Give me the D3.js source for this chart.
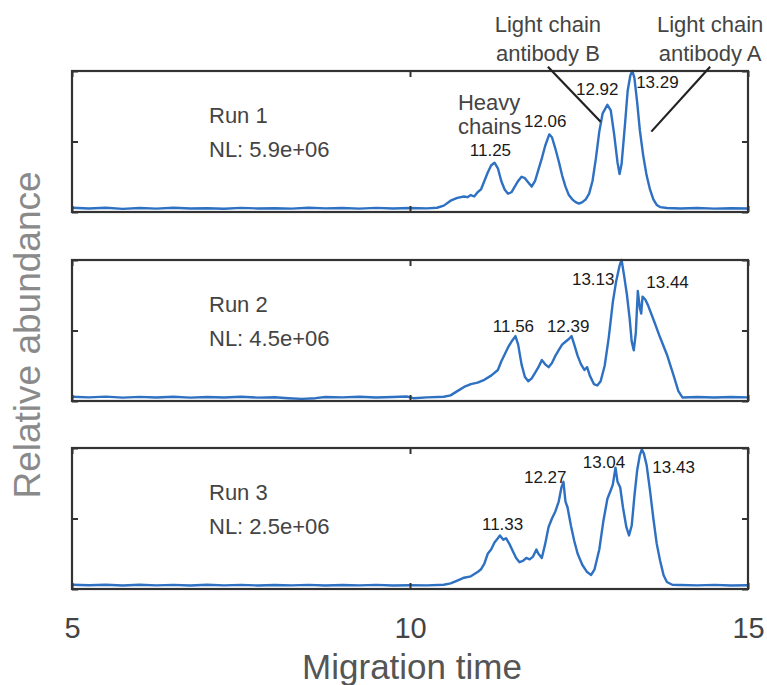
<!DOCTYPE html>
<html><head><meta charset="utf-8">
<script src="https://cdn.jsdelivr.net/npm/d3@7"></script>
<style>body{margin:0;background:#fff}svg{display:block}</style></head>
<body><svg id="c" width="767" height="685"></svg>
<script>
// ---------- data ----------
const runNames = ["Run 1", "Run 2", "Run 3"];
const normLevels = ["NL: 5.9e+06", "NL: 4.5e+06", "NL: 2.5e+06"];
const xTicks = [5, 10, 15];
const xTickLabels = ["5", "10", "15"];
const yTicks = [0, 0.5, 1];

const run1 = [[5.0,.03],[5.25,.025],[5.5,.03],[5.75,.022],[6.0,.028],[6.25,.024],[6.5,.03],[6.75,.025],[7.0,.027],[7.25,.023],[7.5,.029],[7.75,.025],[8.0,.027],[8.25,.024],[8.5,.03],[8.75,.026],[9.0,.028],[9.25,.024],[9.5,.029],[9.75,.025],[10.0,.028],[10.25,.026],[10.4,.03],[10.5,.045],[10.6,.08],[10.7,.10],[10.8,.11],[10.85,.105],[10.9,.12],[10.95,.11],[11.0,.14],[11.05,.16],[11.1,.22],[11.15,.28],[11.2,.33],[11.25,.35],[11.3,.31],[11.35,.22],[11.4,.16],[11.45,.13],[11.5,.14],[11.55,.18],[11.6,.22],[11.65,.25],[11.7,.24],[11.75,.21],[11.8,.18],[11.85,.22],[11.9,.30],[11.95,.38],[12.0,.47],[12.06,.55],[12.1,.53],[12.15,.45],[12.2,.36],[12.25,.26],[12.3,.18],[12.35,.12],[12.4,.09],[12.45,.07],[12.5,.06],[12.55,.07],[12.6,.09],[12.65,.13],[12.7,.22],[12.75,.38],[12.8,.57],[12.85,.70],[12.92,.76],[12.97,.72],[13.02,.55],[13.07,.35],[13.1,.27],[13.13,.34],[13.18,.62],[13.22,.86],[13.26,.97],[13.29,1.0],[13.32,.95],[13.36,.78],[13.4,.58],[13.45,.40],[13.5,.26],[13.55,.16],[13.6,.09],[13.65,.05],[13.7,.035],[13.8,.028],[14.0,.025],[14.25,.028],[14.5,.024],[14.75,.027],[15.0,.025]];

const run2 = [[5.0,.03],[5.25,.026],[5.5,.031],[5.75,.024],[6.0,.029],[6.25,.025],[6.5,.03],[6.75,.024],[7.0,.028],[7.25,.025],[7.5,.03],[7.75,.024],[8.0,.027],[8.2,.02],[8.4,.015],[8.6,.02],[8.75,.028],[9.0,.026],[9.25,.03],[9.5,.025],[9.75,.028],[9.95,.032],[10.05,.02],[10.25,.026],[10.5,.03],[10.6,.04],[10.7,.07],[10.8,.10],[10.9,.12],[11.0,.13],[11.1,.15],[11.2,.18],[11.3,.22],[11.35,.28],[11.4,.33],[11.45,.38],[11.5,.42],[11.56,.46],[11.6,.40],[11.65,.26],[11.7,.17],[11.75,.14],[11.8,.16],[11.85,.20],[11.9,.24],[11.95,.29],[12.0,.26],[12.05,.24],[12.1,.27],[12.15,.32],[12.2,.36],[12.25,.40],[12.3,.42],[12.35,.44],[12.39,.46],[12.43,.40],[12.48,.32],[12.53,.26],[12.58,.22],[12.62,.24],[12.66,.18],[12.72,.12],[12.77,.11],[12.82,.14],[12.88,.25],[12.94,.45],[13.0,.70],[13.05,.85],[13.1,.96],[13.13,1.0],[13.17,.88],[13.21,.75],[13.25,.58],[13.28,.42],[13.31,.36],[13.34,.48],[13.37,.78],[13.4,.66],[13.42,.62],[13.44,.74],[13.48,.72],[13.52,.68],[13.6,.58],[13.7,.45],[13.8,.33],[13.9,.18],[13.97,.07],[14.03,.025],[14.25,.028],[14.5,.025],[14.75,.028],[15.0,.026]];

const run3 = [[5.0,.03],[5.25,.027],[5.5,.03],[5.75,.025],[6.0,.03],[6.25,.026],[6.5,.029],[6.75,.025],[7.0,.03],[7.25,.026],[7.5,.029],[7.75,.025],[8.0,.028],[8.25,.026],[8.5,.029],[8.75,.025],[9.0,.028],[9.25,.026],[9.5,.029],[9.75,.025],[10.0,.027],[10.25,.026],[10.5,.03],[10.6,.04],[10.7,.06],[10.8,.08],[10.9,.09],[11.0,.12],[11.05,.14],[11.1,.18],[11.15,.25],[11.2,.28],[11.25,.33],[11.3,.36],[11.33,.38],[11.38,.35],[11.42,.36],[11.47,.32],[11.52,.27],[11.57,.22],[11.62,.19],[11.67,.20],[11.72,.22],[11.77,.21],[11.82,.23],[11.87,.28],[11.9,.25],[11.95,.22],[12.0,.32],[12.05,.44],[12.1,.50],[12.15,.55],[12.2,.62],[12.24,.72],[12.27,.76],[12.3,.62],[12.33,.58],[12.38,.45],[12.43,.34],[12.48,.25],[12.55,.17],[12.62,.12],[12.68,.10],[12.73,.14],[12.8,.28],[12.86,.48],[12.92,.64],[12.97,.70],[13.0,.74],[13.04,.86],[13.07,.76],[13.11,.72],[13.15,.58],[13.2,.44],[13.24,.38],[13.28,.45],[13.32,.66],[13.36,.84],[13.4,.95],[13.43,.99],[13.46,.96],[13.5,.88],[13.55,.70],[13.6,.50],[13.65,.32],[13.7,.20],[13.75,.10],[13.8,.05],[13.88,.03],[14.0,.028],[14.25,.026],[14.5,.029],[14.75,.025],[15.0,.027]];

const traces = [run1, run2, run3];

// peak labels: [text, time, relative abundance]
const peaks1 = [["11.25",11.19,0.40],["12.06",12.0,0.60],["12.92",12.77,0.83],["13.29",13.66,0.88]];
const peaks2 = [["11.56",11.53,0.49],["12.39",12.34,0.49],["13.13",12.71,0.82],["13.44",13.81,0.80]];
const peaks3 = [["11.33",11.37,0.42],["12.27",12.0,0.75],["13.04",12.87,0.86],["13.43",13.90,0.82]];
const peakLabels = [peaks1, peaks2, peaks3];

// annotation callouts in panel 1
const callouts = [
  {lines:["Light chain","antibody B"], t:12.04, leader:[[12.04,1.03],[12.82,0.64]]},
  {lines:["Light chain","antibody A"], t:14.44, leader:[[14.44,1.03],[13.57,0.57]]}
];
const heavyLabel = {lines:["Heavy","chains"], t:10.71, v:[0.72,0.555]};

// ---------- layout ----------
const svg = d3.select("#c");
const left = 72, right = 748;
const panelTops = [71, 260, 448];
const panelH = 141;
const font = "'Liberation Sans', Arial, Helvetica, sans-serif";

const x = d3.scaleLinear().domain([5, 15]).range([left, right]);

traces.forEach((data, i) => {
  const top = panelTops[i];
  const y = d3.scaleLinear().domain([0, 1]).range([top + panelH, top]);
  const g = svg.append("g");

  g.append("path")
    .datum(data)
    .attr("fill", "none")
    .attr("stroke", "#2e70c2")
    .attr("stroke-width", 2.4)
    .attr("stroke-linejoin", "round")
    .attr("d", d3.line().x(d => x(d[0])).y(d => y(d[1])));

  const axStyle = sel => {
    sel.select(".domain").remove();
    sel.selectAll(".tick line").attr("stroke", "#333").attr("stroke-width", 2);
  };
  g.append("g").attr("transform", `translate(${left},0)`)
    .call(d3.axisLeft(y).tickValues(yTicks).tickSize(-6).tickFormat("")).call(axStyle);
  g.append("g").attr("transform", `translate(${right},0)`)
    .call(d3.axisRight(y).tickValues(yTicks).tickSize(-6).tickFormat("")).call(axStyle);
  g.append("g").attr("transform", `translate(0,${top})`)
    .call(d3.axisTop(x).tickValues(xTicks).tickSize(-6).tickFormat("")).call(axStyle);
  g.append("g").attr("transform", `translate(0,${top + panelH})`)
    .call(d3.axisBottom(x).tickValues(xTicks).tickSize(-6).tickFormat("")).call(axStyle);

  g.append("rect")
    .attr("x", left).attr("y", top)
    .attr("width", right - left).attr("height", panelH)
    .attr("fill", "none").attr("stroke", "#333").attr("stroke-width", 2.2);

  g.append("text").attr("x", 209).attr("y", top + 52)
    .attr("font-family", font).attr("font-size", 22).attr("fill", "#444")
    .text(runNames[i]);
  g.append("text").attr("x", 209).attr("y", top + 86)
    .attr("font-family", font).attr("font-size", 22).attr("fill", "#444")
    .text(normLevels[i]);

  g.selectAll(".pk").data(peakLabels[i]).enter().append("text")
    .attr("x", d => x(d[1])).attr("y", d => y(d[2]))
    .attr("text-anchor", "middle")
    .attr("font-family", font).attr("font-size", 17).attr("fill", "#1a1a1a")
    .text(d => d[0]);

  if (i === 0) {
    g.selectAll(".hv").data(heavyLabel.lines).enter().append("text")
      .attr("x", x(heavyLabel.t)).attr("y", (d, k) => y(heavyLabel.v[k]))
      .attr("font-family", font).attr("font-size", 22).attr("fill", "#444")
      .text(d => d);
    callouts.forEach(c => {
      g.append("line")
        .attr("x1", x(c.leader[0][0])).attr("y1", y(c.leader[0][1]))
        .attr("x2", x(c.leader[1][0])).attr("y2", y(c.leader[1][1]))
        .attr("stroke", "#222").attr("stroke-width", 2.2);
      c.lines.forEach((ln, k) => {
        g.append("text").attr("x", x(c.t)).attr("y", 32 + k * 29)
          .attr("text-anchor", "middle")
          .attr("font-family", font).attr("font-size", 22).attr("fill", "#444")
          .text(ln);
      });
    });
  }
});

const bottomY = panelTops[2] + panelH;
const xa = svg.append("g").attr("transform", `translate(0,${bottomY})`)
  .call(d3.axisBottom(x).tickValues(xTicks).tickSize(0).tickPadding(28)
    .tickFormat((d, k) => xTickLabels[k]));
xa.select(".domain").remove();
xa.selectAll("text").attr("font-family", font).attr("font-size", 29).attr("fill", "#444");

svg.append("text").attr("x", 412).attr("y", 679)
  .attr("text-anchor", "middle")
  .attr("font-family", font).attr("font-size", 35).attr("fill", "#555")
  .text("Migration time");

svg.append("text")
  .attr("transform", `translate(40,${(panelTops[0] + bottomY) / 2 + 5}) rotate(-90)`)
  .attr("text-anchor", "middle")
  .attr("font-family", font).attr("font-size", 37).attr("fill", "#8a8a8a")
  .text("Relative abundance");
</script></body></html>
